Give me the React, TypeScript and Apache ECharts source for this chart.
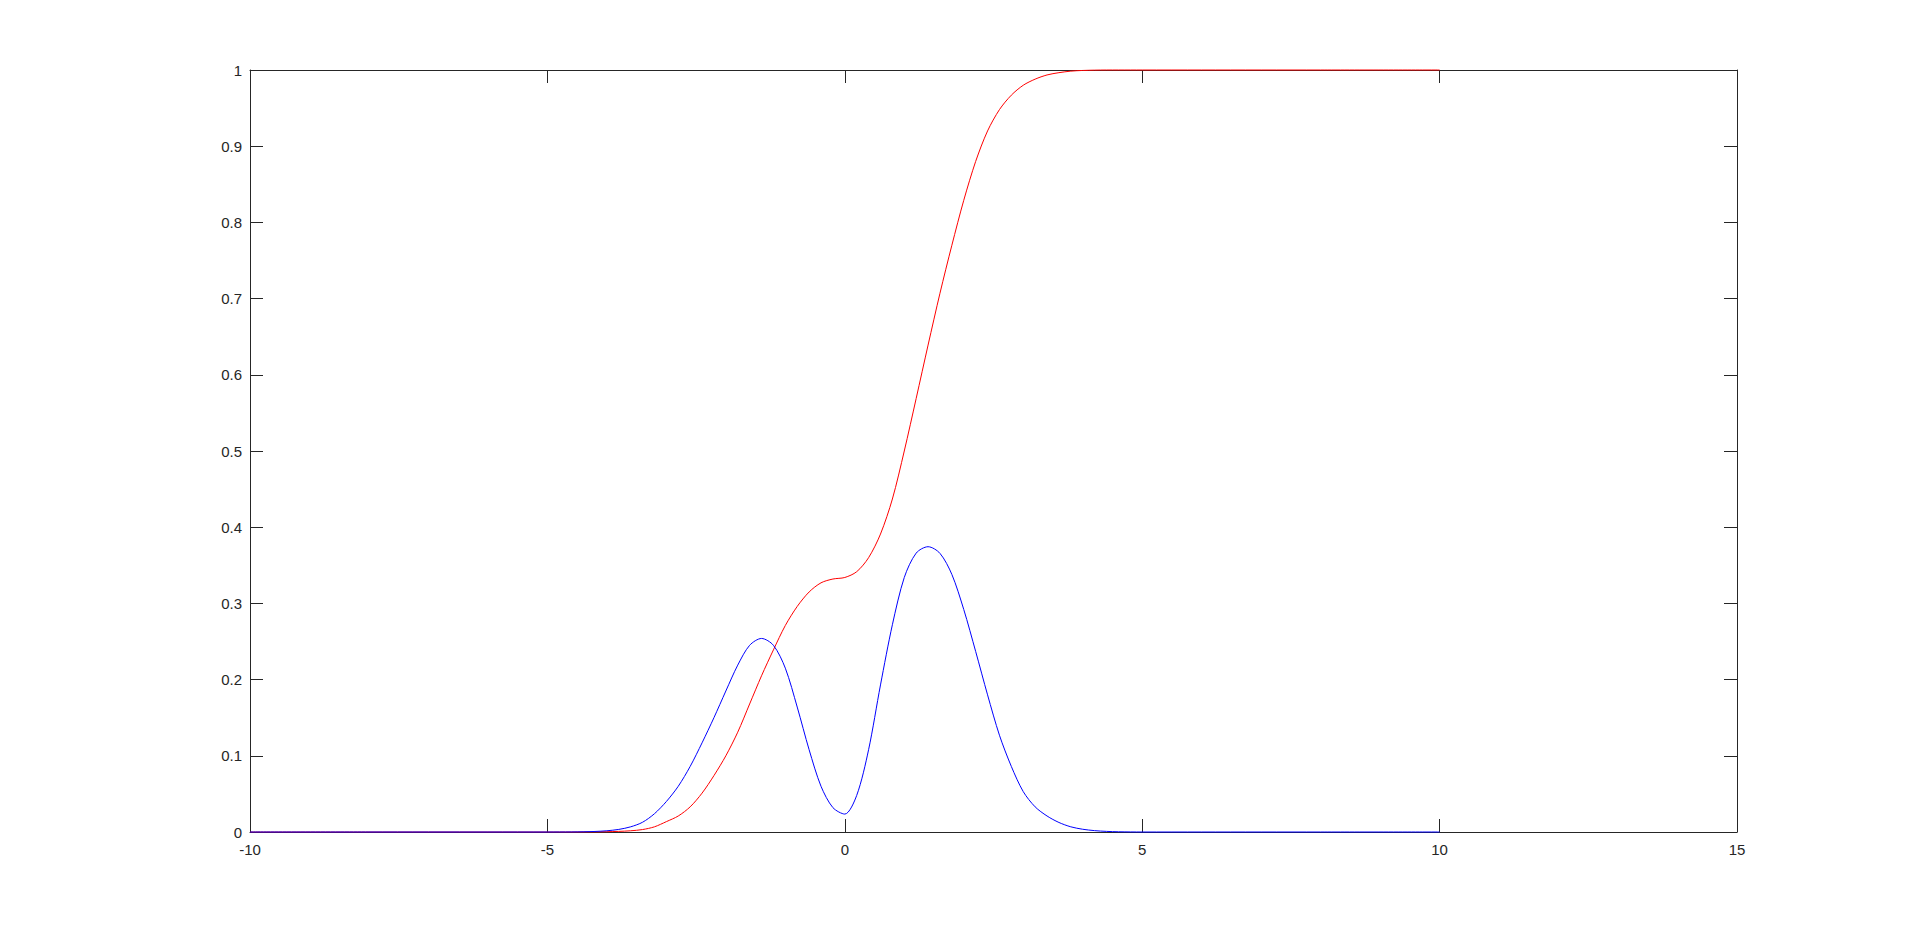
import React, { useEffect, useRef } from "react";
import * as echarts from "echarts";

const xTicks = { min: -10, max: 15, interval: 5 };
const yTicks = { min: 0, max: 1, interval: 0.1 };

const blueX = [-10, -8, -6, -5, -4.6, -4.4, -4.2, -4.0, -3.8, -3.6, -3.4, -3.2, -3.0, -2.8, -2.6, -2.4, -2.2, -2.0, -1.8, -1.6, -1.4, -1.2, -1.0, -0.8, -0.6, -0.4, -0.2, 0.0, 0.2, 0.4, 0.6, 0.8, 1.0, 1.2, 1.4, 1.6, 1.8, 2.0, 2.2, 2.4, 2.6, 2.8, 3.0, 3.2, 3.4, 3.6, 3.8, 4.0, 4.2, 4.4, 4.6, 5, 6, 8, 10];
const blueY = [0, 0, 0, 0, 0.0001, 0.0003, 0.0007, 0.0016, 0.0034, 0.0068, 0.0128, 0.024, 0.04, 0.06, 0.086, 0.117, 0.15, 0.185, 0.219, 0.245, 0.254, 0.245, 0.215, 0.164, 0.108, 0.06, 0.032, 0.0235, 0.048, 0.108, 0.193, 0.272, 0.334, 0.366, 0.3744, 0.3657, 0.338, 0.292, 0.237, 0.18, 0.127, 0.086, 0.053, 0.033, 0.021, 0.0125, 0.0068, 0.0036, 0.0018, 0.0008, 0.0003, 0, 0, 0, 0];

const redX = [-10, -8, -6, -5, -4.6, -4.4, -4.2, -4.0, -3.8, -3.6, -3.4, -3.2, -3.0, -2.8, -2.6, -2.4, -2.2, -2.0, -1.8, -1.6, -1.4, -1.2, -1.0, -0.8, -0.6, -0.4, -0.2, 0.0, 0.2, 0.4, 0.6, 0.8, 1.0, 1.2, 1.4, 1.6, 1.8, 2.0, 2.2, 2.4, 2.6, 2.8, 3.0, 3.2, 3.4, 3.6, 3.8, 4.0, 4.2, 4.4, 4.6, 5, 6, 8, 10];
const redY = [0, 0, 0, 0, 0, 0.0001, 0.0002, 0.0004, 0.0008, 0.0016, 0.0032, 0.0068, 0.0136, 0.021, 0.033, 0.051, 0.074, 0.1, 0.131, 0.168, 0.205, 0.239, 0.271, 0.296, 0.315, 0.327, 0.332, 0.334, 0.3416, 0.36, 0.391, 0.437, 0.5, 0.569, 0.639, 0.707, 0.77, 0.829, 0.88, 0.92, 0.948, 0.967, 0.98, 0.988, 0.9935, 0.9965, 0.9985, 0.9994, 0.9998, 1, 1, 1, 1, 1, 1];

const AXIS = "#262626";
const FONT = "'Liberation Sans', Arial, sans-serif";

export default function App() {
  const ref = useRef<HTMLDivElement>(null);
  useEffect(() => {
    if (!ref.current) return;
    const chart = echarts.init(ref.current, undefined, { renderer: "svg" });
    const axisCommon = {
      axisLine: { show: true, onZero: false, lineStyle: { color: AXIS, width: 1 } },
      axisTick: { show: true, inside: true, length: 13, lineStyle: { color: AXIS, width: 1 } },
      splitLine: { show: false },
    };
    chart.setOption({
      animation: false,
      backgroundColor: "#ffffff",
      grid: { left: 250, top: 70, right: 183, bottom: 104, containLabel: false },
      xAxis: [
        {
          type: "value",
          ...xTicks,
          position: "bottom",
          ...axisCommon,
          axisLabel: { color: AXIS, fontSize: 15, fontFamily: FONT, margin: 10 },
        },
        {
          type: "value",
          ...xTicks,
          position: "top",
          ...axisCommon,
          axisLabel: { show: false },
        },
      ],
      yAxis: [
        {
          type: "value",
          ...yTicks,
          position: "left",
          ...axisCommon,
          axisLabel: { color: AXIS, fontSize: 15, fontFamily: FONT, margin: 8 },
        },
        {
          type: "value",
          ...yTicks,
          position: "right",
          ...axisCommon,
          axisLabel: { show: false },
        },
      ],
      series: [
        {
          type: "line",
          data: redX.map((x, i) => [x, redY[i]]),
          showSymbol: false,
          smooth: 0.3,
          clip: false,
          lineStyle: { color: "#ff0000", width: 1 },
        },
        {
          type: "line",
          data: blueX.map((x, i) => [x, blueY[i]]),
          showSymbol: false,
          smooth: 0.3,
          clip: false,
          lineStyle: { color: "#0000ff", width: 1 },
        },
      ],
    });
    return () => chart.dispose();
  }, []);
  return (
    <div
      ref={ref}
      style={{ position: "absolute", left: 0, top: 0, width: 1920, height: 936, background: "#fff" }}
    />
  );
}
